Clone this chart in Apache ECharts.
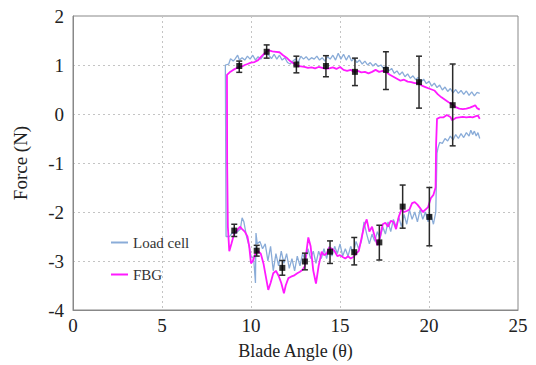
<!DOCTYPE html>
<html>
<head>
<meta charset="utf-8">
<script src="https://cdn.jsdelivr.net/npm/echarts@6/dist/echarts.min.js"></script>
<style>
  html, body { margin: 0; padding: 0; background: #fff; }
  #chart { width: 536px; height: 365px; }
</style>
</head>
<body>
<div id="chart"></div>
<script>
// Load cell branches, [angle, force], in path order
const loadCellRight = [
  [22.85,-0.5],[22.75,-0.38],[22.65,-0.45],[22.55,-0.35],[22.45,-0.42],[22.35,-0.33],[22.25,-0.45],
  [22.1,-0.38],[21.95,-0.48],[21.8,-0.4],[21.65,-0.5],[21.5,-0.42],[21.35,-0.53],[21.2,-0.45],
  [21.05,-0.55],[20.9,-0.5],[20.75,-0.6],[20.6,-0.58],[20.5,-0.7],[20.45,-0.8]
];
const loadCellBottom = [
  [20.38,-2.0],[20.25,-2.25],[20.1,-2.05],[19.95,-2.2],[19.8,-2.0],[19.65,-2.15],[19.5,-1.95],
  [19.35,-2.2],[19.2,-2.0],[19.05,-2.15],[18.9,-1.95],[18.75,-2.25],[18.6,-2.05],[18.45,-2.3],
  [18.3,-2.1],[18.15,-2.3],[18.0,-2.15],[17.85,-2.4],[17.7,-2.2],[17.55,-2.45],[17.4,-2.3],
  [17.25,-2.55],[17.1,-2.4],[16.95,-2.6],[16.8,-2.45],[16.65,-2.65],[16.5,-2.45],[16.35,-2.2],
  [16.2,-2.6],[16.05,-2.75],[15.9,-2.6],[15.75,-2.85],[15.6,-2.7],[15.45,-2.9],[15.3,-2.75],
  [15.15,-2.9],[15.0,-2.65],[14.85,-2.85],[14.7,-2.7],[14.55,-2.9],[14.4,-2.7],[14.25,-2.95],
  [14.1,-2.75],[13.95,-2.95],[13.8,-2.8],[13.65,-3.05],[13.5,-2.8],[13.35,-2.95],[13.2,-2.75],
  [13.05,-3.0],[12.9,-2.85],[12.75,-3.1],[12.6,-2.9],[12.45,-3.2],[12.3,-2.95],[12.15,-3.15],
  [12.0,-2.85],[11.85,-3.05],[11.7,-2.8],[11.55,-3.1],[11.4,-2.85],[11.25,-3.2],[11.1,-2.7],
  [10.95,-3.0],[10.8,-2.65],[10.65,-2.75],[10.5,-2.6],[10.35,-2.65],[10.28,-2.43],[10.25,-3.45],
  [10.15,-2.95],[10.0,-2.9],[9.9,-2.7],[9.75,-2.5],[9.6,-2.2],[9.5,-2.12],[9.4,-2.35],
  [9.25,-2.4],[9.1,-2.45],[8.95,-2.42],[8.8,-2.5],[8.6,-2.5]
];
const loadCellTop = [
  [8.56,1.0],[8.75,1.02],[8.85,1.13],[9.0,1.08],[9.1,1.12],[9.25,1.2],[9.35,1.1],[9.5,1.15],
  [9.65,1.1],[9.8,1.18],[9.95,1.12],[10.1,1.2],[10.25,1.1],[10.4,1.17],[10.55,1.12],[10.7,1.2],
  [10.85,1.25],[11.0,1.2],[11.15,1.13],[11.3,1.22],[11.45,1.12],[11.6,1.2],[11.75,1.1],[11.9,1.15],
  [12.05,1.05],[12.2,1.02],[12.35,1.08],[12.5,1.12],[12.65,1.05],[12.8,1.18],[12.95,1.12],[13.1,1.17],
  [13.25,1.1],[13.4,1.15],[13.55,1.12],[13.7,1.18],[13.85,1.1],[14.0,1.15],[14.15,1.08],[14.3,1.17],
  [14.45,1.12],[14.6,1.2],[14.75,1.1],[14.9,1.24],[15.05,1.12],[15.2,1.22],[15.35,1.1],[15.5,1.2],
  [15.65,1.08],[15.8,1.14],[15.95,1.05],[16.1,1.1],[16.25,1.02],[16.4,1.08],[16.55,1.0],[16.7,1.05],
  [16.85,0.98],[17.0,1.03],[17.15,0.97],[17.3,1.0],[17.45,0.93],[17.6,0.98],[17.75,0.88],[17.9,0.93],
  [18.05,0.83],[18.2,0.88],[18.35,0.8],[18.5,0.86],[18.65,0.76],[18.8,0.82],[18.95,0.73],[19.1,0.78],
  [19.25,0.7],[19.4,0.75],[19.55,0.66],[19.7,0.71],[19.85,0.62],[20.0,0.67],[20.15,0.57],[20.3,0.63],
  [20.45,0.54],[20.6,0.59],[20.75,0.49],[20.9,0.55],[21.05,0.46],[21.2,0.52],[21.35,0.43],[21.5,0.5],
  [21.65,0.42],[21.8,0.48],[21.95,0.4],[22.1,0.47],[22.25,0.38],[22.4,0.45],[22.55,0.37],[22.7,0.44],
  [22.85,0.42]
];

// FBG branches, [angle, force], in path order
const fbgRight = [
  [22.85,-0.1],[22.75,-0.03],[22.6,-0.05],[22.45,-0.07],[22.3,-0.06],[22.1,-0.07],[21.9,-0.06],
  [21.7,-0.07],[21.5,-0.08],[21.3,-0.13],[21.2,-0.06],[21.0,-0.02],[20.8,-0.07],[20.6,-0.07],
  [20.45,-0.1],[20.4,-0.6]
];
const fbgBottom = [
  [20.37,-1.5],[20.25,-1.65],[20.1,-1.72],[19.95,-1.9],[19.8,-1.95],[19.65,-2.0],[19.5,-1.92],
  [19.35,-1.85],[19.2,-1.8],[19.05,-1.82],[18.9,-1.95],[18.75,-1.98],[18.6,-2.0],[18.45,-1.95],
  [18.3,-2.1],[18.15,-2.35],[18.0,-2.2],[17.85,-2.18],[17.7,-2.3],[17.55,-2.22],[17.4,-2.25],
  [17.25,-2.5],[17.1,-2.68],[16.95,-2.5],[16.8,-2.3],[16.65,-2.4],[16.5,-2.15],[16.35,-2.3],
  [16.2,-2.55],[16.05,-2.8],[15.9,-2.85],[15.75,-2.92],[15.6,-2.95],[15.45,-2.9],[15.3,-2.95],
  [15.15,-2.92],[15.0,-2.88],[14.85,-2.9],[14.7,-2.8],[14.55,-2.75],[14.4,-2.72],[14.25,-2.85],
  [14.1,-2.88],[13.97,-2.81],[13.8,-3.1],[13.65,-3.46],[13.5,-3.2],[13.35,-2.7],[13.22,-2.52],
  [13.1,-2.85],[13.03,-3.1],[12.9,-3.18],[12.75,-3.22],[12.6,-3.25],[12.4,-3.3],[12.25,-3.32],
  [12.1,-3.35],[11.95,-3.5],[11.85,-3.66],[11.7,-3.45],[11.55,-3.3],[11.4,-3.2],[11.25,-3.25],
  [11.1,-3.45],[10.97,-3.59],[10.85,-3.35],[10.7,-3.05],[10.55,-2.85],[10.4,-2.8],[10.25,-2.85],
  [10.1,-3.0],[10.0,-3.05],[9.9,-2.7],[9.8,-2.5],[9.65,-2.4],[9.5,-2.35],[9.38,-2.3],[9.2,-2.38],
  [9.05,-2.45],[8.9,-2.65],[8.78,-2.8],[8.7,-2.3],[8.66,-1.0]
];
const fbgTop = [
  [8.65,0.8],[8.8,0.85],[9.0,0.9],[9.15,0.93],[9.3,0.96],[9.5,0.97],[9.65,1.0],[9.8,1.02],
  [10.0,1.05],[10.2,1.06],[10.4,1.1],[10.6,1.18],[10.8,1.25],[11.0,1.3],[11.2,1.28],[11.4,1.27],
  [11.6,1.26],[11.8,1.2],[12.0,1.15],[12.2,1.08],[12.4,1.03],[12.6,0.98],[12.8,0.97],[13.0,0.96],
  [13.2,0.94],[13.4,0.95],[13.6,0.93],[13.8,0.96],[14.0,0.94],[14.2,0.92],[14.4,0.93],[14.6,0.95],
  [14.8,0.92],[15.0,0.96],[15.2,0.9],[15.4,0.88],[15.6,0.9],[15.8,0.86],[16.0,0.88],[16.2,0.85],
  [16.4,0.86],[16.6,0.83],[16.8,0.86],[17.0,0.9],[17.2,0.86],[17.4,0.88],[17.6,0.85],[17.8,0.8],
  [18.0,0.76],[18.2,0.72],[18.4,0.68],[18.6,0.7],[18.8,0.66],[19.0,0.65],[19.2,0.63],[19.4,0.63],
  [19.6,0.58],[19.8,0.55],[20.0,0.52],[20.3,0.48],[20.5,0.4],[20.7,0.34],[20.9,0.29],[21.1,0.24],
  [21.3,0.2],[21.5,0.14],[21.7,0.11],[21.9,0.1],[22.1,0.11],[22.3,0.13],[22.5,0.16],[22.6,0.18],
  [22.7,0.12],[22.85,0.09]
];

// error bars: angle, mean, low, high
const errX    = [9.34, 10.88, 12.55, 14.21, 15.84, 17.58, 19.44, 21.33, 9.06, 10.32, 11.76, 13.03, 14.44, 15.80, 17.21, 18.52, 20.02];
const errMean = [0.98, 1.27, 1.01, 0.98, 0.86, 0.90, 0.65, 0.18, -2.38, -2.79, -3.14, -3.01, -2.81, -2.82, -2.62, -1.89, -2.10];
const errLow  = [0.85, 1.14, 0.84, 0.76, 0.58, 0.50, 0.12, -0.65, -2.50, -2.90, -3.29, -3.18, -3.05, -3.08, -2.98, -2.33, -2.69];
const errHigh = [1.08, 1.41, 1.18, 1.19, 1.14, 1.27, 1.18, 1.02, -2.25, -2.68, -2.99, -2.84, -2.59, -2.52, -2.27, -1.45, -1.50];

const xTicks = [0, 5, 10, 15, 20, 25];
const yTicks = [-4, -3, -2, -1, 0, 1, 2];

const font = 'Liberation Serif';
const chart = echarts.init(document.getElementById('chart'), null, { renderer: 'svg' });

const errData = errX.map((x, i) => [x, errMean[i], errLow[i], errHigh[i]]);

chart.setOption({
  animation: false,
  backgroundColor: '#fff',
  textStyle: { fontFamily: font },
  grid: {
    left: 73, right: 18, top: 16, bottom: 55,
    show: true, borderColor: '#888', borderWidth: 1
  },
  legend: {
    data: [{ name: 'Load cell', icon: 'rect' }, { name: 'FBG', icon: 'rect' }],
    orient: 'vertical',
    left: 106, top: 230,
    itemWidth: 17, itemHeight: 2, itemGap: 17,
    textStyle: { fontFamily: font, fontSize: 15, color: '#333' }
  },
  xAxis: {
    type: 'value',
    min: xTicks[0], max: xTicks[xTicks.length - 1], interval: 5,
    name: 'Blade Angle (\u03b8)',
    nameLocation: 'middle', nameGap: 32,
    nameTextStyle: { fontFamily: font, fontSize: 18, color: '#222' },
    axisLine: { onZero: false, lineStyle: { color: '#888' } },
    axisTick: { show: false },
    axisLabel: { fontFamily: font, fontSize: 19, color: '#222', margin: 6 },
    splitLine: { lineStyle: { color: '#c4c4c4', type: [2, 3] } }
  },
  yAxis: {
    type: 'value',
    min: yTicks[0], max: yTicks[yTicks.length - 1], interval: 1,
    name: 'Force (N)',
    nameLocation: 'middle', nameGap: 43,
    nameTextStyle: { fontFamily: font, fontSize: 19, color: '#222' },
    axisLine: { onZero: false, lineStyle: { color: '#888' } },
    axisTick: { show: false },
    axisLabel: { fontFamily: font, fontSize: 19, color: '#222', margin: 9 },
    splitLine: { lineStyle: { color: '#c4c4c4', type: [2, 3] } }
  },
  series: [
    {
      name: 'Load cell',
      type: 'line',
      symbol: 'none',
      data: loadCellRight.concat(loadCellBottom, loadCellTop),
      lineStyle: { color: '#8aacd8', width: 1.3 },
      itemStyle: { color: '#8aacd8' },
      z: 2
    },
    {
      name: 'FBG',
      type: 'line',
      symbol: 'none',
      data: fbgRight.concat(fbgBottom, fbgTop),
      lineStyle: { color: '#ff1aff', width: 1.8 },
      itemStyle: { color: '#ff1aff' },
      z: 3
    },
    {
      name: 'err',
      type: 'custom',
      data: errData,
      z: 4,
      renderItem: function (params, api) {
        const x = api.value(0);
        const lo = api.coord([x, api.value(2)]);
        const hi = api.coord([x, api.value(3)]);
        const cap = 3;
        const style = { stroke: '#2a2a2a', lineWidth: 1.5 };
        return {
          type: 'group',
          children: [
            { type: 'line', shape: { x1: lo[0], y1: lo[1], x2: hi[0], y2: hi[1] }, style: style },
            { type: 'line', shape: { x1: lo[0] - cap, y1: lo[1], x2: lo[0] + cap, y2: lo[1] }, style: style },
            { type: 'line', shape: { x1: hi[0] - cap, y1: hi[1], x2: hi[0] + cap, y2: hi[1] }, style: style }
          ]
        };
      }
    },
    {
      name: 'mean',
      type: 'scatter',
      symbol: 'rect',
      symbolSize: 6,
      data: errData.map(d => [d[0], d[1]]),
      itemStyle: { color: '#000' },
      z: 5
    }
  ]
});
</script>
</body>
</html>
